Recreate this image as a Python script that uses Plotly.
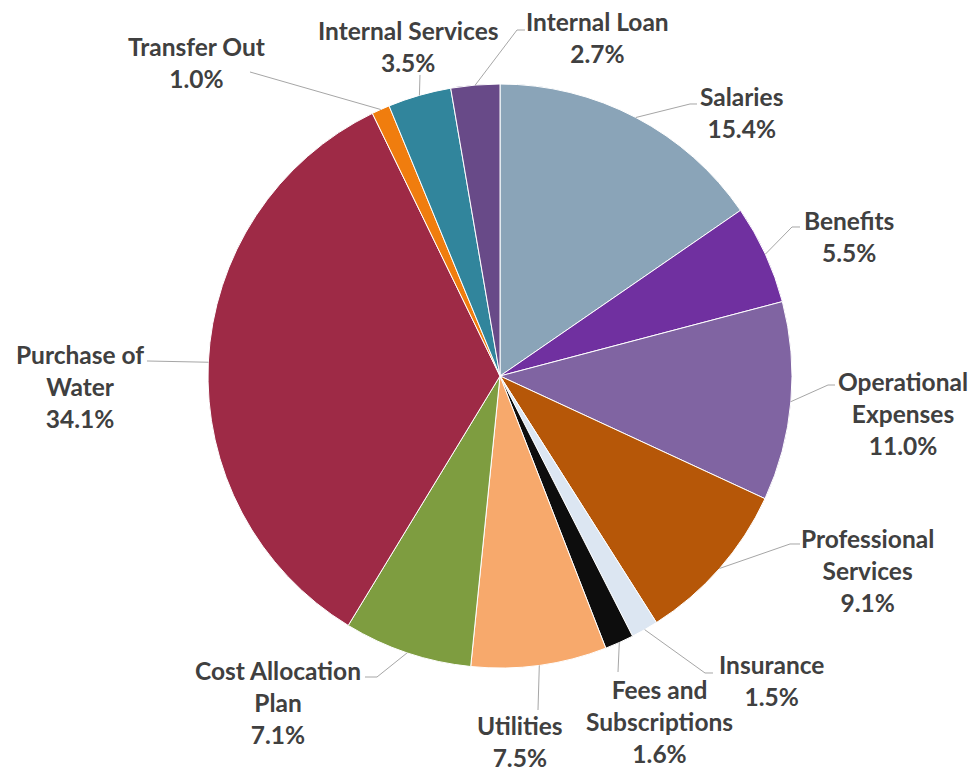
import math
import plotly.graph_objects as go

# Budget breakdown by expense category (clockwise from 12 o'clock)
categories = [
    "Salaries", "Benefits", "Operational Expenses", "Professional Services",
    "Insurance", "Fees and Subscriptions", "Utilities", "Cost Allocation Plan",
    "Purchase of Water", "Transfer Out", "Internal Services", "Internal Loan",
]
shares = [15.4, 5.5, 11.0, 9.1, 1.5, 1.6, 7.5, 7.1, 34.1, 1.0, 3.5, 2.7]
label_lines = [
    ["Salaries"], ["Benefits"], ["Operational", "Expenses"], ["Professional", "Services"],
    ["Insurance"], ["Fees and", "Subscriptions"], ["Utilities"], ["Cost Allocation", "Plan"],
    ["Purchase of", "Water"], ["Transfer Out"], ["Internal Services"], ["Internal Loan"],
]
colors = [
    "#8AA4B8", "#7030A0", "#8064A2", "#B65708", "#DCE6F2", "#0D0D0D",
    "#F7A96C", "#7E9D40", "#9E2A46", "#F07D0E", "#31859C", "#684A88",
]

W, H = 974, 773
CX, CY, R = 500, 376, 292

# label block centres and leader-line paths (pixel space, y down)
label_pos = [
    (741, 113), (849, 236), (903, 413), (867, 570), (771, 680), (659, 721),
    (520, 741), (278, 702), (80, 386), (196, 63), (408, 46), (597, 38),
]
leader_tail = [
    [(690, 104), (697, 104)],
    [(792, 227), (800, 227)],
    [(828, 385), (835, 385)],
    [(790, 544), (800, 544)],
    [(705, 673), (713, 673)],
    [(618, 672)],
    [(538, 710)],
    [(377, 677), (365, 677)],
    [(147, 361)],
    [(250, 72)],
    [(420, 75)],
    [(517, 30), (525, 30)],
]


def px(x):
    return x / W


def py(y):
    return 1 - y / H


fig = go.Figure(
    go.Pie(
        labels=categories,
        values=shares,
        sort=False,
        direction="clockwise",
        rotation=0,
        textinfo="none",
        hoverinfo="label+percent",
        marker=dict(colors=colors, line=dict(color="white", width=1)),
        domain=dict(x=[px(CX - R), px(CX + R)], y=[py(CY + R), py(CY - R)]),
        showlegend=False,
    )
)

total = sum(shares)
shapes = []
annotations = []
cum = 0.0
for name, val, lines, (lx, ly), tail in zip(categories, shares, label_lines, label_pos, leader_tail):
    mid = (cum + val / 2) / total * 2 * math.pi
    cum += val
    sx = CX + R * math.sin(mid)
    sy = CY - R * math.cos(mid)
    pts = [(sx, sy)] + tail
    path = "M " + " L ".join(f"{px(x):.5f},{py(y):.5f}" for x, y in pts)
    shapes.append(dict(type="path", xref="paper", yref="paper", path=path,
                       line=dict(color="#A6A6A6", width=1)))
    text = "<br>".join(lines + [f"{val:.1f}%"])
    annotations.append(dict(
        x=px(lx), y=py(ly), xref="paper", yref="paper",
        text=text, showarrow=False, xanchor="center", yanchor="middle",
        align="center",
        font=dict(family="Lato", size=24.5, color="#404040", weight="bold"),
    ))

fig.update_layout(
    width=W, height=H,
    margin=dict(l=0, r=0, t=0, b=0),
    paper_bgcolor="white",
    plot_bgcolor="white",
    shapes=shapes,
    annotations=annotations,
)

fig.write_html("out.html")
